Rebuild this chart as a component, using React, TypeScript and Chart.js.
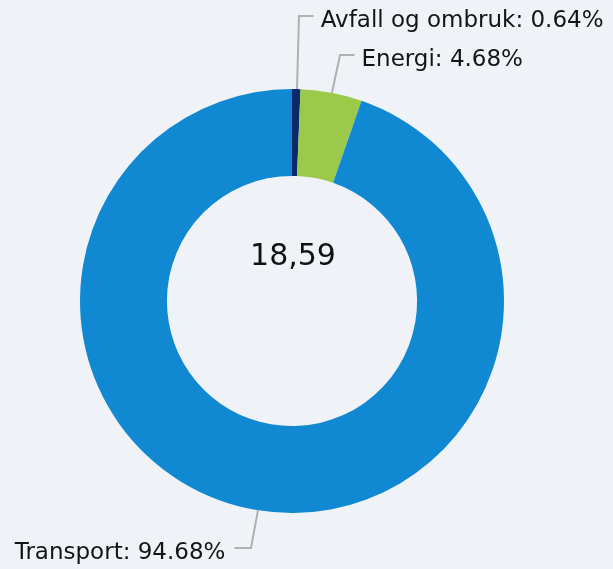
import React, { useEffect, useRef } from "react";
import { Chart, registerables } from "chart.js";

Chart.register(...registerables);

const categories = ["Avfall og ombruk", "Energi", "Transport"];
const shares = [0.64, 4.68, 94.68];
const colors = ["#0b2a6b", "#9bc94a", "#1188d2"];
const totalLabel = "18,59";
const labelDistances = [285, 250, 250];

const W = 613;
const H = 569;

const labelPlugin = {
  id: "pieLabels",
  afterDatasetsDraw(chart: any) {
    const ctx = chart.ctx;
    const meta = chart.getDatasetMeta(0);
    ctx.save();
    ctx.font = '23px "DejaVu Sans"';
    ctx.fillStyle = "#141414";
    ctx.strokeStyle = "#b0b0b0";
    ctx.lineWidth = 2;
    meta.data.forEach((arc: any, i: number) => {
      const { x, y, startAngle, endAngle, outerRadius } = arc.getProps(
        ["x", "y", "startAngle", "endAngle", "outerRadius"],
        true
      );
      const mid = (startAngle + endAngle) / 2;
      const sx = x + Math.cos(mid) * outerRadius;
      const sy = y + Math.sin(mid) * outerRadius;
      const d = labelDistances[i];
      const ex = x + Math.cos(mid) * d;
      const ey = y + Math.sin(mid) * d;
      const right = Math.cos(mid) >= 0;
      const hx = right ? ex + 16 : ex - 16;
      ctx.beginPath();
      ctx.moveTo(Math.round(sx) + 1, sy);
      ctx.lineTo(Math.round(ex) + 1, Math.round(ey));
      ctx.lineTo(hx, Math.round(ey));
      ctx.stroke();
      const text = `${categories[i]}: ${shares[i].toFixed(2)}%`;
      ctx.textAlign = right ? "left" : "right";
      ctx.textBaseline = "alphabetic";
      ctx.fillText(text, right ? hx + 7 : hx - 9, Math.round(ey) + 11);
    });
    // center total
    const a = meta.data[0];
    ctx.font = '30px "DejaVu Sans"';
    ctx.textAlign = "center";
    ctx.fillStyle = "#111111";
    ctx.fillText(totalLabel, a.x + 1, a.y - 36);
    ctx.restore();
  },
};

export default function App() {
  const ref = useRef<HTMLCanvasElement>(null);
  useEffect(() => {
    document.body.style.margin = "0";
    const chart = new Chart(ref.current!, {
      type: "doughnut",
      data: {
        labels: categories,
        datasets: [
          {
            data: shares,
            backgroundColor: colors,
            borderWidth: 0,
            hoverOffset: 0,
          },
        ],
      },
      options: {
        responsive: false,
        animation: false,
        cutout: "59%",
        layout: { padding: { left: 80, right: 109, top: 89, bottom: 56 } },
        plugins: { legend: { display: false }, tooltip: { enabled: false } },
      },
      plugins: [labelPlugin],
    });
    return () => chart.destroy();
  }, []);
  return (
    <div style={{ width: W, height: H, background: "#eff3f7" }}>
      <canvas ref={ref} width={W} height={H} style={{ display: "block" }} />
    </div>
  );
}
